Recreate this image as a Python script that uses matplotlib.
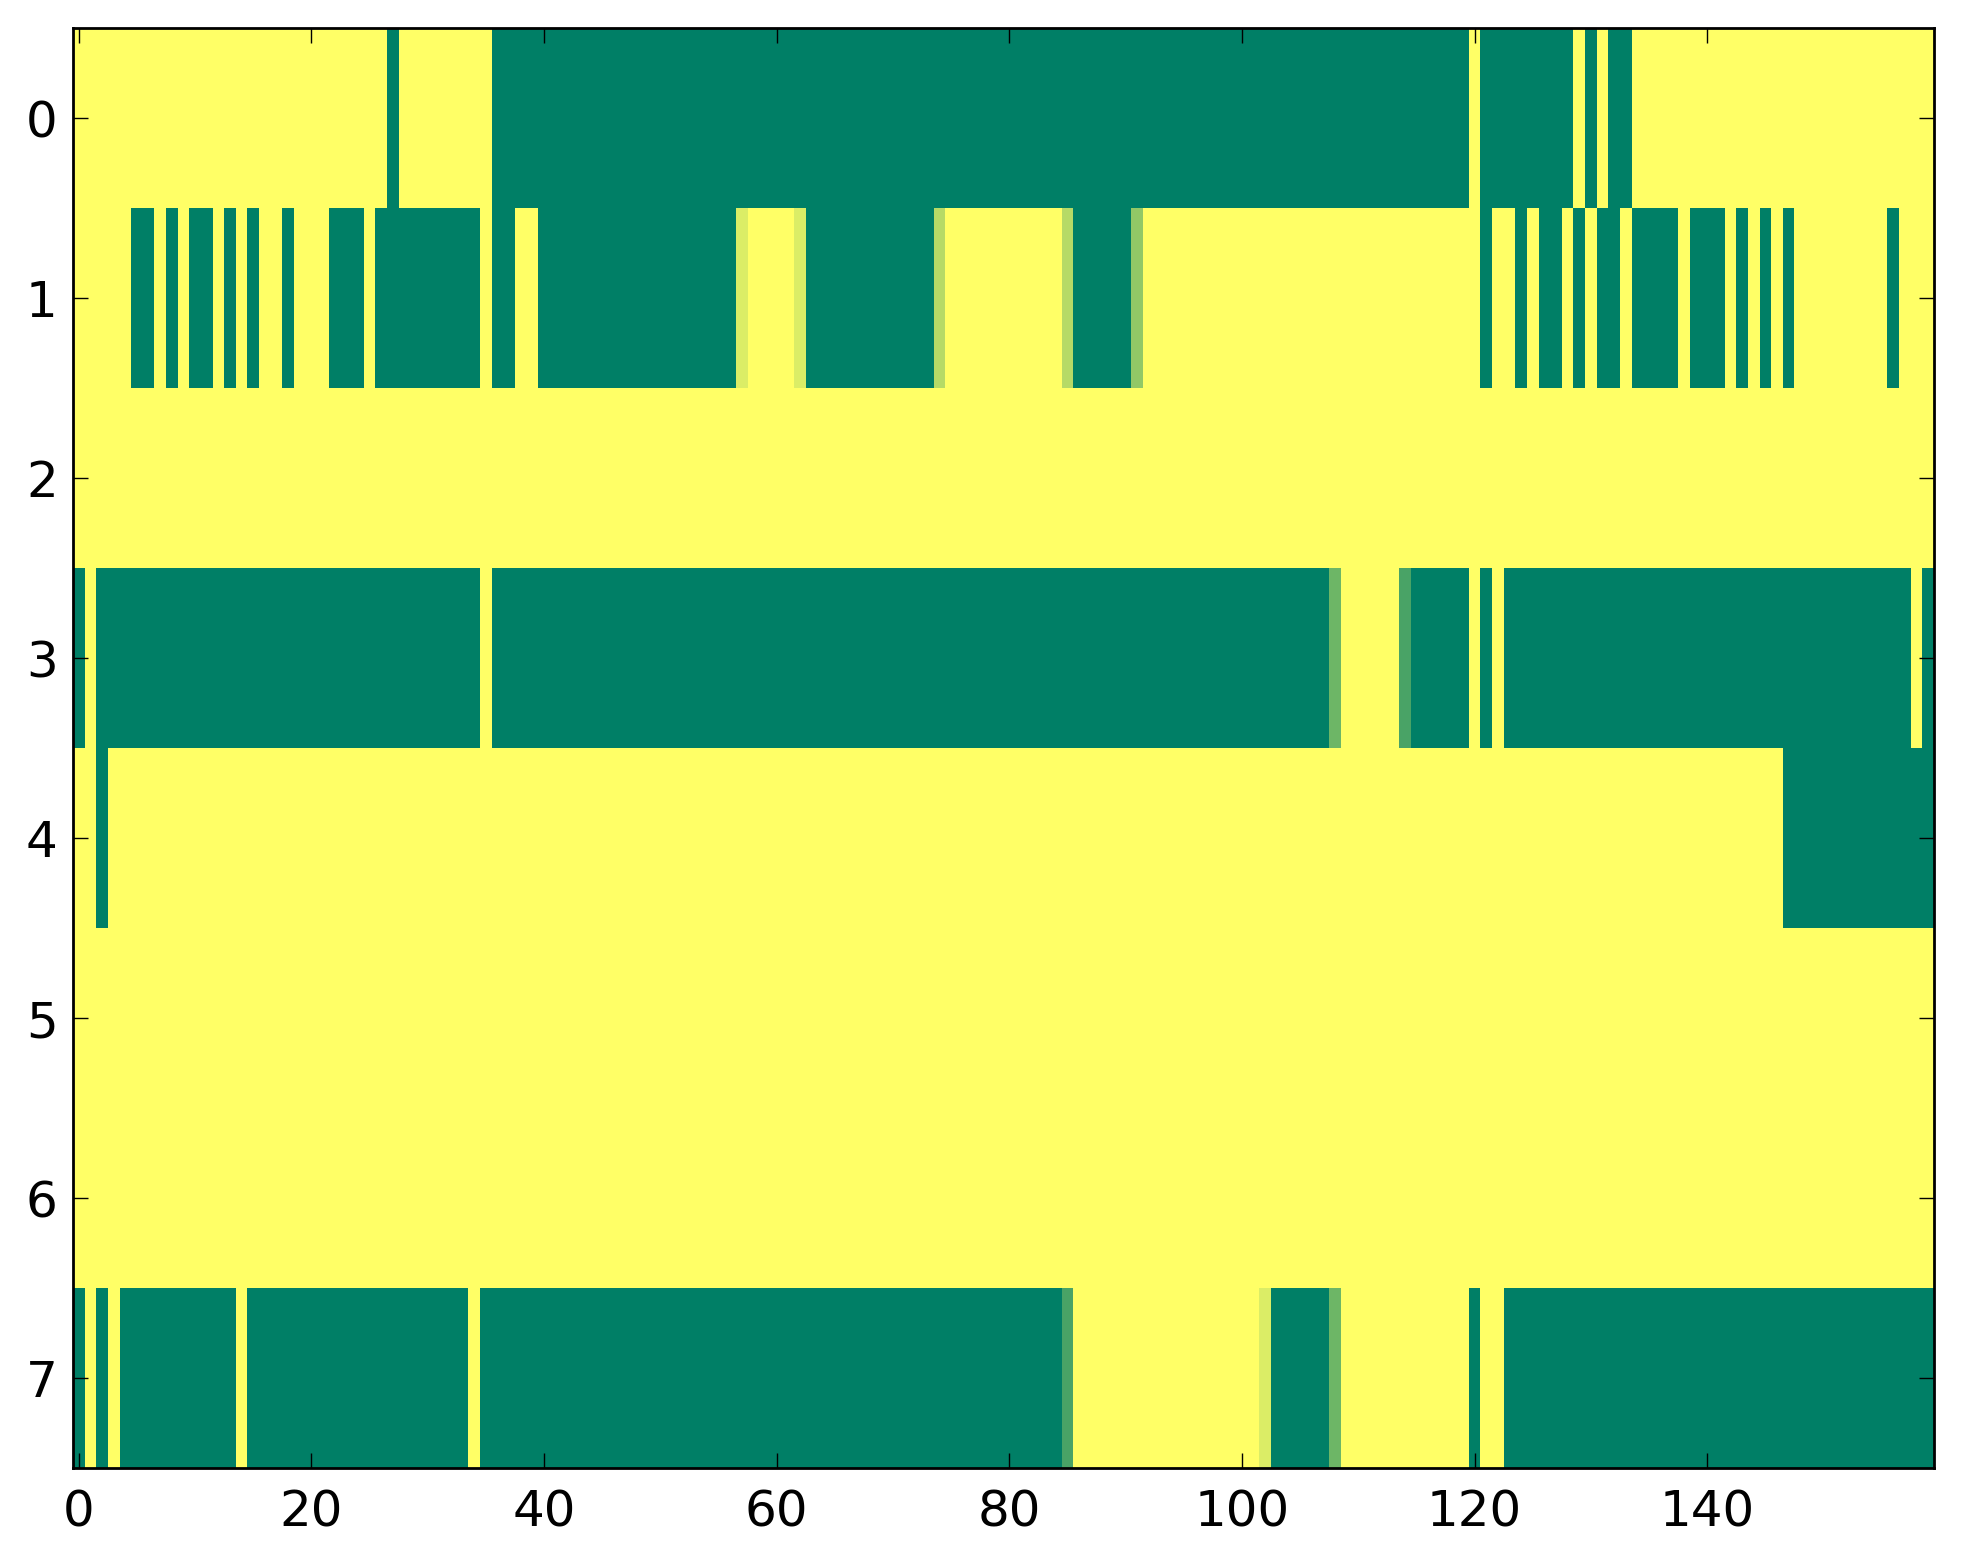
import numpy as np
import matplotlib
matplotlib.use("Agg")
import matplotlib.pyplot as plt

# Each row: list of (value, run length); 160 columns per row
row0 = [(1, 27), (0, 1), (1, 8), (0, 84), (1, 1), (0, 8), (1, 1), (0, 1), (1, 1), (0, 2), (1, 26)]
row1 = [(1, 5), (0, 2), (1, 1), (0, 1), (1, 1), (0, 2), (1, 1), (0, 1), (1, 1), (0, 1), (1, 2),
        (0, 1), (1, 3), (0, 3), (1, 1), (0, 9), (1, 1), (0, 2), (1, 2), (0, 17), (6/7, 1), (1, 4),
        (6/7, 1), (0, 11), (5/7, 1), (1, 10), (5/7, 1), (0, 5), (4/7, 1), (1, 29), (0, 1), (1, 2),
        (0, 1), (1, 1), (0, 2), (1, 1), (0, 1), (1, 1), (0, 2), (1, 1), (0, 4), (1, 1), (0, 3),
        (1, 1), (0, 1), (1, 1), (0, 1), (1, 1), (0, 1), (1, 8), (0, 1), (1, 3)]
row2 = [(1, 160)]
row3 = [(0, 1), (1, 1), (0, 33), (1, 1), (0, 72), (3/7, 1), (1, 5), (2/7, 1), (0, 5), (1, 1),
        (0, 1), (1, 1), (0, 35), (1, 1), (0, 1)]
row4 = [(1, 2), (0, 1), (1, 144), (0, 13)]
row5 = [(1, 160)]
row6 = [(1, 160)]
row7 = [(0, 1), (1, 1), (0, 1), (1, 1), (0, 10), (1, 1), (0, 19), (1, 1), (0, 50), (2/7, 1),
        (1, 16), (6/7, 1), (0, 5), (3/7, 1), (1, 11), (0, 1), (1, 2), (0, 37)]

rows = [row0, row1, row2, row3, row4, row5, row6, row7]
xticks = [0, 20, 40, 60, 80, 100, 120, 140]
yticks = [0, 1, 2, 3, 4, 5, 6, 7]


def expand(runs):
    vals = [v for v, _ in runs]
    counts = [c for _, c in runs]
    return np.repeat(vals, counts)


data = np.vstack([expand(r) for r in rows])

W, H = 1963, 1564
fig = plt.figure(figsize=(W / 100, H / 100), dpi=100)
ax = fig.add_axes([73 / W, 1 - 1468 / H, (1934 - 73) / W, (1468 - 28) / H])
ax.imshow(data, cmap="summer", vmin=0, vmax=1, interpolation="nearest", aspect="auto")
ax.set_xlim(-0.5, 159.5)
ax.set_ylim(7.5, -0.5)
ax.set_xticks(xticks)
ax.set_yticks(yticks)
ax.tick_params(direction="in", length=10.8, width=1.0, top=True, right=True,
               labelsize=36, colors="black")
ax.tick_params(axis="x", pad=15)
ax.tick_params(axis="y", pad=11)
for s in ax.spines.values():
    s.set_linewidth(2.0)
    s.set_color("black")

fig.savefig("out.png", dpi=100, facecolor="white")
